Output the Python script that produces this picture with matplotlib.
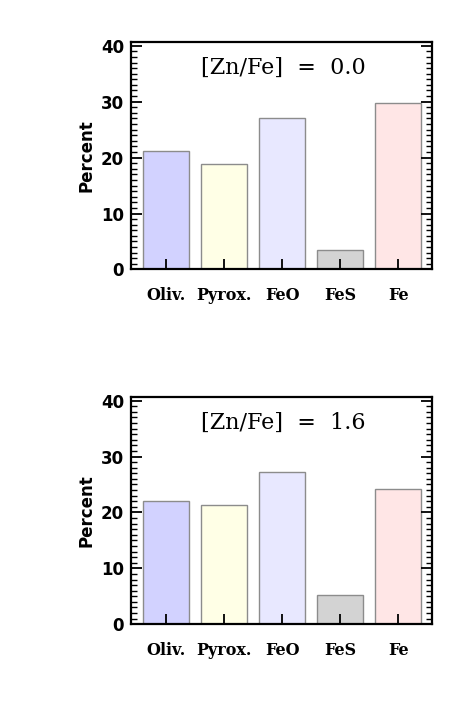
import matplotlib
matplotlib.use("Agg")
import matplotlib.pyplot as plt
from matplotlib.ticker import MultipleLocator

# minerals on the x axis
labels = ["Oliv.", "Pyrox.", "FeO", "FeS", "Fe"]
colors = ["#d2d2ff", "#ffffe6", "#e8e8ff", "#d3d3d3", "#ffe6e6"]

# percentages for the two zinc abundances
pct_zn00 = [21.1, 18.8, 27.0, 3.5, 29.7]
pct_zn16 = [22.0, 21.4, 27.3, 5.2, 24.2]
titles = ["[Zn/Fe]  =  0.0", "[Zn/Fe]  =  1.6"]

fig = plt.figure(figsize=(4.71, 7.09), dpi=100)
boxes = [[0.278, 0.620, 0.639, 0.321], [0.278, 0.1195, 0.639, 0.321]]

for box, vals, title in zip(boxes, [pct_zn00, pct_zn16], titles):
    ax = fig.add_axes(box)
    x = list(range(len(labels)))
    ax.bar(x, vals, width=0.79, color=colors, edgecolor="#8c8c8c", linewidth=1.0)
    ax.set_xlim(-0.61, 4.58)
    ax.set_ylim(0, 40.7)
    ax.set_xticks(x)
    ax.set_xticklabels(labels, family="DejaVu Serif", fontweight="bold", fontsize=11.5)
    ax.set_yticks([0, 10, 20, 30, 40])
    ax.yaxis.set_minor_locator(MultipleLocator(1))
    ax.tick_params(axis="y", which="both", direction="in", left=True, right=True,
                   labelsize=12, width=1.3)
    ax.tick_params(axis="y", which="major", length=8, pad=5)
    ax.tick_params(axis="y", which="minor", length=4, width=1.0)
    ax.tick_params(axis="x", which="major", direction="in", length=7, width=1.3,
                   top=False, pad=13)
    for lab in ax.get_yticklabels():
        lab.set_fontweight("bold")
    for sp in ax.spines.values():
        sp.set_linewidth(1.6)
    ax.set_ylabel("Percent", fontweight="bold", fontsize=12, labelpad=4)
    ax.text(0.505, 0.885, title, transform=ax.transAxes, ha="center", va="center",
            family="DejaVu Serif", fontsize=16)

fig.savefig("out.png", dpi=100)
